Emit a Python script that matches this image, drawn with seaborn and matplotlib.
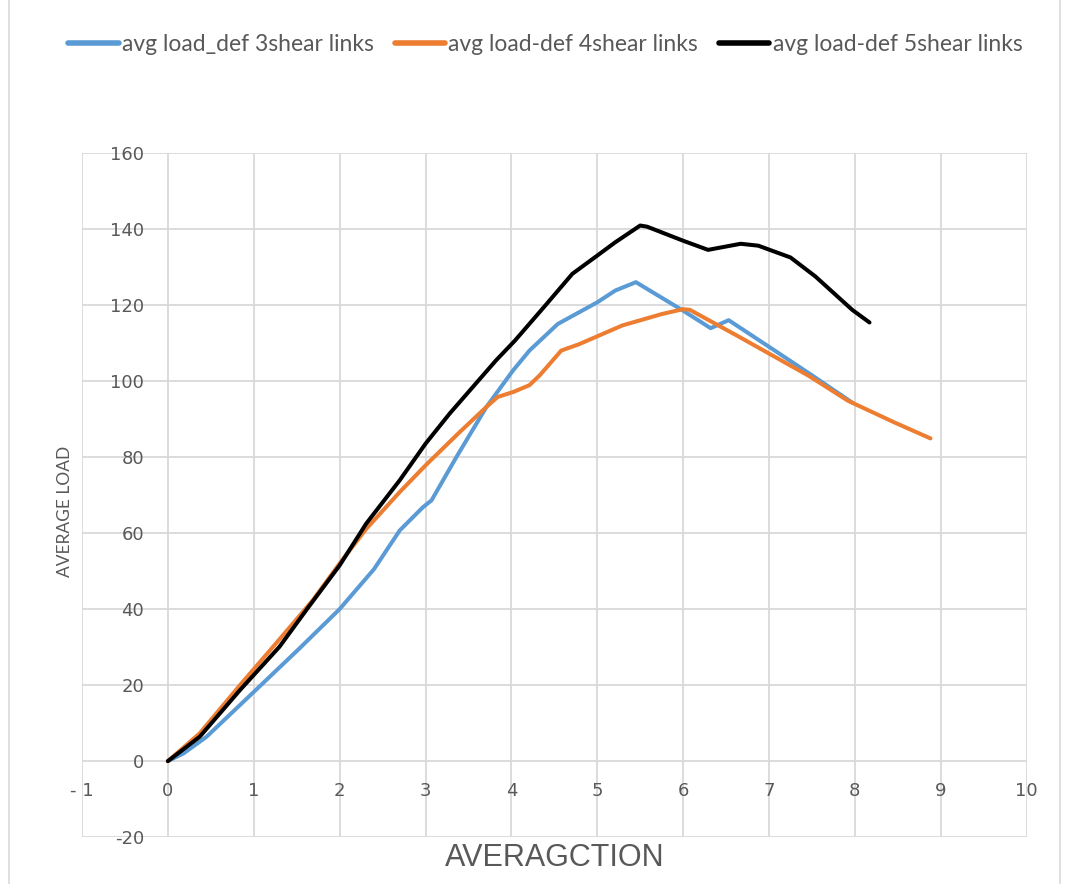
import pandas as pd
import matplotlib.pyplot as plt
import seaborn as sns

# values
x3 = [0, 0.18, 0.45, 1.0, 1.53, 2.0, 2.4, 2.7, 2.97, 3.07, 3.36, 3.71, 4.02, 4.21,
      4.54, 4.79, 5.0, 5.21, 5.45, 6.0, 6.32, 6.53, 7.04, 7.5, 7.97]
y3 = [0, 2, 6.4, 18.2, 29.6, 40, 50.5, 60.7, 66.8, 68.6, 80, 93.2, 102.8, 108,
      115, 118.1, 120.7, 123.8, 126, 118.5, 113.9, 116, 108.4, 101.5, 94.3]

x4 = [0, 0.37, 0.84, 1.26, 1.69, 2.0, 2.31, 2.7, 3.0, 3.4, 3.71, 3.84, 4.02, 4.21,
      4.33, 4.58, 4.79, 5.29, 5.75, 6.0, 6.08, 6.63, 7.46, 7.92, 8.46, 8.88]
y4 = [0, 7.3, 20, 31, 42.4, 52, 61.1, 70.8, 77.8, 86.6, 93.2, 95.8, 97.1, 98.9,
      101.5, 108, 109.7, 114.6, 117.6, 118.9, 118.7, 111.9, 101.4, 94.8, 89.1, 84.9]

x5 = [0, 0.37, 0.84, 1.3, 1.62, 2.0, 2.31, 2.7, 3.0, 3.28, 3.82, 4.04, 4.4, 4.71,
      5.0, 5.21, 5.5, 5.58, 6.0, 6.29, 6.67, 6.875, 7.25, 7.54, 7.97, 8.17]
y5 = [0, 6.4, 18.7, 30.1, 40.0, 51.5, 62.5, 73.9, 83.5, 91.4, 105.4, 110.6, 120.0, 128.2,
      133, 136.5, 140.9, 140.6, 136.9, 134.5, 136.1, 135.6, 132.5, 127.5, 118.7, 115.4]

names = ["avg load_def 3shear links", "avg load-def 4shear links", "avg load-def 5shear links"]
colors = ["#5b9bd5", "#ed7d31", "#000000"]

frames = []
for n, xs, ys in zip(names, [x3, x4, x5], [y3, y4, y5]):
    frames.append(pd.DataFrame({"x": xs, "y": ys, "series": n}))
df = pd.concat(frames, ignore_index=True)

sns.set_style("white")
plt.rcParams["font.family"] = ["DejaVu Sans"]
plt.rcParams["axes.unicode_minus"] = False

fig = plt.figure(figsize=(10.65, 8.84), dpi=100)
ax = fig.add_axes([0.077, 0.053, 0.887, 0.774])

sns.lineplot(data=df, x="x", y="y", hue="series", palette=colors, sort=False,
             estimator=None, linewidth=2.9, ax=ax, legend=True)

ax.set_xlim(-1, 10)
ax.set_ylim(-20, 160)
ax.set_xticks(range(-1, 11))
ax.set_yticks(range(-20, 161, 20))
ax.set_xticklabels([("- 1" if v == -1 else str(v)) for v in range(-1, 11)])
ax.grid(True, color="#d9d9d9", linewidth=1.3)
ax.set_axisbelow(True)
for s in ax.spines.values():
    s.set_visible(False)
ax.spines["left"].set_position(("data", 0))
ax.spines["bottom"].set_position(("data", 0))
ax.tick_params(axis="both", length=0, labelsize=13, labelcolor="#595959")
ax.tick_params(axis="x", pad=15)
ax.tick_params(axis="y", pad=17)

ax.set_xlabel("")
ax.set_ylabel("")
fig.text(0.061, 0.422, "AVERAGE LOAD", rotation=90, ha="center", va="center",
         fontsize=12.5, color="#595959", family="Lato")
fig.text(0.521, 0.029, "AVERAGCTION", ha="center", va="center",
         fontsize=22, color="#595959", family="Liberation Sans")

handles, labels = ax.get_legend_handles_labels()
ax.get_legend().remove()
leg = fig.legend(handles, labels, loc="center", bbox_to_anchor=(0.512, 0.95), ncol=3,
                 frameon=False, handlelength=2.2, handletextpad=0.15, columnspacing=0.9,
                 prop={"family": "Lato", "size": 16.5})
for t in leg.get_texts():
    t.set_color("#595959")
for h in leg.legend_handles:
    h.set_linewidth(4)

# chart border lines
fig.add_artist(plt.Line2D([0.008, 0.008], [0, 1], color="#d9d9d9", linewidth=1.2))
fig.add_artist(plt.Line2D([0.995, 0.995], [0, 1], color="#d9d9d9", linewidth=1.2))

fig.savefig("out.png", dpi=100)
